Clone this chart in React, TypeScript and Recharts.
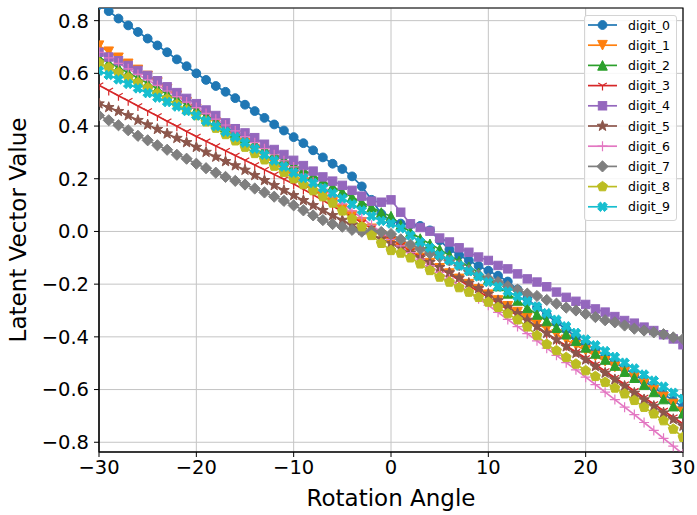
import React from "react";
import {
  LineChart,
  Line,
  XAxis,
  YAxis,
  CartesianGrid,
  Legend,
  ReferenceArea,
} from "recharts";

const FONT = "'DejaVu Sans', sans-serif";
const GRID = "#c4c4c4";

// rotation angles, one per sample
const ANGLES = [
  -30, -29, -28, -27, -26, -25, -24, -23, -22, -21,
  -20, -19, -18, -17, -16, -15, -14, -13, -12, -11,
  -10, -9, -8, -7, -6, -5, -4, -3, -2, -1,
  0, 1, 2, 3, 4, 5, 6, 7, 8, 9,
  10, 11, 12, 13, 14, 15, 16, 17, 18, 19,
  20, 21, 22, 23, 24, 25, 26, 27, 28, 29,
  30,
];

const DIGIT_0 = [
  0.86, 0.836, 0.808, 0.782, 0.757, 0.732, 0.706, 0.68, 0.653, 0.627,
  0.6, 0.575, 0.552, 0.53, 0.506, 0.481, 0.457, 0.431, 0.406, 0.383,
  0.358, 0.335, 0.308, 0.281, 0.257, 0.237, 0.209, 0.171, 0.12, 0.067,
  0.04, 0.03, 0.027, 0.021, 0.004, -0.034, -0.068, -0.09, -0.11, -0.131,
  -0.149, -0.168, -0.19, -0.22, -0.255, -0.288, -0.316, -0.344, -0.372, -0.4,
  -0.426, -0.448, -0.474, -0.497, -0.52, -0.543, -0.568, -0.592, -0.617, -0.642,
  -0.666,
];

const DIGIT_1 = [
  0.705, 0.682, 0.659, 0.636, 0.613, 0.59, 0.565, 0.54, 0.515, 0.49,
  0.465, 0.439, 0.413, 0.387, 0.361, 0.335, 0.31, 0.285, 0.26, 0.235,
  0.21, 0.185, 0.16, 0.135, 0.11, 0.085, 0.06, 0.035, 0.01, -0.015,
  -0.04, -0.06, -0.08, -0.1, -0.12, -0.14, -0.16, -0.18, -0.2, -0.22,
  -0.24, -0.262, -0.284, -0.306, -0.328, -0.35, -0.37, -0.391, -0.411, -0.432,
  -0.452, -0.473, -0.493, -0.514, -0.534, -0.555, -0.578, -0.602, -0.628, -0.655,
  -0.685,
];

const DIGIT_2 = [
  0.66, 0.641, 0.622, 0.602, 0.582, 0.562, 0.542, 0.522, 0.502, 0.482,
  0.462, 0.44, 0.419, 0.397, 0.376, 0.355, 0.335, 0.315, 0.295, 0.275,
  0.255, 0.234, 0.213, 0.192, 0.171, 0.15, 0.131, 0.111, 0.092, 0.072,
  0.058, 0.025, -0.002, -0.027, -0.047, -0.068, -0.09, -0.112, -0.134, -0.157,
  -0.18, -0.207, -0.235, -0.262, -0.29, -0.315, -0.34, -0.365, -0.39, -0.415,
  -0.44, -0.463, -0.486, -0.509, -0.532, -0.555, -0.582, -0.609, -0.636, -0.663,
  -0.69,
];

const DIGIT_3 = [
  0.555, 0.535, 0.515, 0.496, 0.476, 0.457, 0.438, 0.418, 0.399, 0.379,
  0.36, 0.342, 0.324, 0.306, 0.288, 0.27, 0.252, 0.234, 0.216, 0.198,
  0.18, 0.16, 0.139, 0.118, 0.097, 0.076, 0.055, 0.034, 0.013, -0.009,
  -0.03, -0.052, -0.074, -0.096, -0.118, -0.14, -0.162, -0.184, -0.206, -0.228,
  -0.25, -0.273, -0.296, -0.319, -0.342, -0.365, -0.388, -0.411, -0.434, -0.457,
  -0.48, -0.505, -0.53, -0.555, -0.58, -0.605, -0.63, -0.655, -0.68, -0.705,
  -0.73,
];

const DIGIT_4 = [
  0.68, 0.662, 0.648, 0.63, 0.611, 0.592, 0.572, 0.549, 0.527, 0.505,
  0.485, 0.461, 0.44, 0.412, 0.39, 0.374, 0.356, 0.331, 0.311, 0.292,
  0.27, 0.25, 0.229, 0.207, 0.191, 0.175, 0.156, 0.134, 0.115, 0.111,
  0.12, 0.073, 0.029, 0.015, 0.001, -0.025, -0.04, -0.062, -0.079, -0.097,
  -0.11, -0.129, -0.142, -0.161, -0.18, -0.192, -0.21, -0.23, -0.25, -0.265,
  -0.277, -0.294, -0.306, -0.323, -0.338, -0.348, -0.363, -0.376, -0.392, -0.408,
  -0.43,
];

const DIGIT_5 = [
  0.485, 0.471, 0.456, 0.44, 0.422, 0.405, 0.388, 0.371, 0.354, 0.338,
  0.32, 0.301, 0.283, 0.266, 0.25, 0.233, 0.213, 0.194, 0.175, 0.156,
  0.137, 0.118, 0.099, 0.08, 0.061, 0.043, 0.024, 0.005, -0.012, -0.028,
  -0.045, -0.063, -0.081, -0.099, -0.117, -0.136, -0.156, -0.176, -0.196, -0.216,
  -0.237, -0.262, -0.287, -0.311, -0.336, -0.361, -0.386, -0.411, -0.437, -0.462,
  -0.487, -0.512, -0.537, -0.562, -0.587, -0.613, -0.638, -0.663, -0.688, -0.713,
  -0.738,
];

const DIGIT_6 = [
  0.68, 0.659, 0.638, 0.617, 0.596, 0.575, 0.554, 0.533, 0.512, 0.491,
  0.47, 0.448, 0.426, 0.404, 0.382, 0.36, 0.337, 0.314, 0.291, 0.268,
  0.245, 0.217, 0.189, 0.161, 0.133, 0.105, 0.078, 0.051, 0.024, -0.003,
  -0.03, -0.055, -0.08, -0.105, -0.13, -0.155, -0.18, -0.205, -0.23, -0.255,
  -0.28, -0.307, -0.334, -0.361, -0.388, -0.415, -0.443, -0.47, -0.498, -0.525,
  -0.553, -0.581, -0.61, -0.638, -0.667, -0.695, -0.725, -0.755, -0.785, -0.815,
  -0.845,
];

const DIGIT_7 = [
  0.44, 0.422, 0.403, 0.384, 0.363, 0.346, 0.327, 0.31, 0.291, 0.276,
  0.257, 0.24, 0.223, 0.207, 0.192, 0.178, 0.163, 0.148, 0.132, 0.116,
  0.099, 0.08, 0.061, 0.043, 0.028, 0.018, 0.006, -0.001, 0.003, -0.002,
  -0.01, -0.03, -0.05, -0.066, -0.083, -0.097, -0.11, -0.128, -0.147, -0.165,
  -0.179, -0.192, -0.208, -0.221, -0.236, -0.245, -0.26, -0.274, -0.289, -0.3,
  -0.313, -0.325, -0.337, -0.345, -0.357, -0.369, -0.376, -0.383, -0.39, -0.402,
  -0.408,
];

const DIGIT_8 = [
  0.64, 0.622, 0.603, 0.584, 0.565, 0.545, 0.524, 0.503, 0.482, 0.461,
  0.44, 0.416, 0.392, 0.368, 0.344, 0.32, 0.296, 0.272, 0.248, 0.224,
  0.2, 0.178, 0.155, 0.132, 0.108, 0.078, 0.048, 0.018, -0.015, -0.045,
  -0.072, -0.082, -0.1, -0.123, -0.148, -0.173, -0.192, -0.213, -0.23, -0.25,
  -0.268, -0.288, -0.312, -0.335, -0.362, -0.395, -0.428, -0.452, -0.478, -0.503,
  -0.528, -0.55, -0.572, -0.594, -0.616, -0.641, -0.667, -0.692, -0.718, -0.75,
  -0.781,
];

const DIGIT_9 = [
  0.61, 0.594, 0.577, 0.56, 0.543, 0.525, 0.508, 0.491, 0.474, 0.457,
  0.44, 0.419, 0.399, 0.378, 0.358, 0.337, 0.314, 0.291, 0.269, 0.246,
  0.223, 0.203, 0.184, 0.164, 0.145, 0.125, 0.103, 0.08, 0.058, 0.04,
  0.03, 0.012, -0.015, -0.04, -0.062, -0.09, -0.11, -0.13, -0.151, -0.171,
  -0.192, -0.21, -0.228, -0.247, -0.265, -0.285, -0.31, -0.335, -0.36, -0.385,
  -0.41, -0.432, -0.454, -0.476, -0.498, -0.52, -0.543, -0.566, -0.589, -0.612,
  -0.635,
];

const X_TICKS = [-30, -20, -10, 0, 10, 20, 30];
const Y_TICKS = [-0.8, -0.6, -0.4, -0.2, 0, 0.2, 0.4, 0.6, 0.8];
const Y_MIN = -0.837;
const Y_MAX = 0.848;

type MarkerKind = "o" | "v" | "^" | "1" | "s" | "*" | "+" | "D" | "p" | "X";

const SERIES: { key: string; color: string; marker: MarkerKind; values: number[] }[] = [
  { key: "digit_0", color: "#1f77b4", marker: "o", values: DIGIT_0 },
  { key: "digit_1", color: "#ff7f0e", marker: "v", values: DIGIT_1 },
  { key: "digit_2", color: "#2ca02c", marker: "^", values: DIGIT_2 },
  { key: "digit_3", color: "#d62728", marker: "1", values: DIGIT_3 },
  { key: "digit_4", color: "#9467bd", marker: "s", values: DIGIT_4 },
  { key: "digit_5", color: "#8c564b", marker: "*", values: DIGIT_5 },
  { key: "digit_6", color: "#e377c2", marker: "+", values: DIGIT_6 },
  { key: "digit_7", color: "#7f7f7f", marker: "D", values: DIGIT_7 },
  { key: "digit_8", color: "#bcbd22", marker: "p", values: DIGIT_8 },
  { key: "digit_9", color: "#17becf", marker: "X", values: DIGIT_9 },
];

const data = ANGLES.map((angle, i) => {
  const row: Record<string, number> = { angle };
  SERIES.forEach((s) => {
    row[s.key] = s.values[i];
  });
  return row;
});

function polyPoints(x: number, y: number, pts: number[][]) {
  return pts.map(([dx, dy]) => `${x + dx},${y + dy}`).join(" ");
}

function starPoints(r: number, inner: number, n: number) {
  const pts: number[][] = [];
  for (let i = 0; i < n * 2; i++) {
    const rad = i % 2 === 0 ? r : inner;
    const a = -Math.PI / 2 + (i * Math.PI) / n;
    pts.push([rad * Math.cos(a), rad * Math.sin(a)]);
  }
  return pts;
}

const STAR = starPoints(5.6, 2.3, 5);
const PENTA = starPoints(5.2, 5.2 * Math.cos(Math.PI / 5), 5).filter((_, i) => i % 2 === 0);
const XSHAPE = [
  [-2, -4.8], [0, -2.2], [2, -4.8], [4.8, -2], [2.2, 0], [4.8, 2],
  [2, 4.8], [0, 2.2], [-2, 4.8], [-4.8, 2], [-2.2, 0], [-4.8, -2],
];

function Marker({ kind, x, y, color }: { kind: MarkerKind; x: number; y: number; color: string }) {
  const common = { fill: color, stroke: color, strokeWidth: 1 };
  switch (kind) {
    case "o":
      return <circle cx={x} cy={y} r={4.4} {...common} />;
    case "v":
      return <polygon points={polyPoints(x, y, [[0, 4.8], [-4.8, -4.8], [4.8, -4.8]])} {...common} />;
    case "^":
      return <polygon points={polyPoints(x, y, [[0, -4.8], [-4.8, 4.8], [4.8, 4.8]])} {...common} />;
    case "1":
      return (
        <path
          d={`M${x},${y}L${x},${y + 5}M${x},${y}L${x - 4.3},${y - 2.5}M${x},${y}L${x + 4.3},${y - 2.5}`}
          stroke={color}
          strokeWidth={1.2}
          fill="none"
        />
      );
    case "s":
      return <rect x={x - 4.2} y={y - 4.2} width={8.4} height={8.4} {...common} />;
    case "*":
      return <polygon points={polyPoints(x, y, STAR)} {...common} />;
    case "+":
      return (
        <path
          d={`M${x - 5},${y}L${x + 5},${y}M${x},${y - 5}L${x},${y + 5}`}
          stroke={color}
          strokeWidth={1.2}
          fill="none"
        />
      );
    case "D":
      return <polygon points={polyPoints(x, y, [[0, -5.6], [5.6, 0], [0, 5.6], [-5.6, 0]])} {...common} />;
    case "p":
      return <polygon points={polyPoints(x, y, PENTA)} {...common} />;
    case "X":
      return <polygon points={polyPoints(x, y, XSHAPE)} {...common} />;
  }
  return null;
}

function makeDot(kind: MarkerKind, color: string, key: string) {
  return (props: any) => {
    const { cx, cy, index } = props;
    if (cx == null || cy == null) return <g key={`${key}-${index}`} />;
    return (
      <g key={`${key}-${index}`}>
        <Marker kind={kind} x={cx} y={cy} color={color} />
      </g>
    );
  };
}

function fmtX(v: number) {
  return v < 0 ? `\u2212${Math.abs(v)}` : String(v);
}

function fmtY(v: number) {
  const s = Math.abs(v).toFixed(1);
  return v < -1e-9 ? `\u2212${s}` : s;
}

function YTitle(props: any) {
  const vb = props.viewBox || { x: 0, y: 8, width: 99, height: 444 };
  const cy = vb.y + vb.height / 2;
  return (
    <text
      x={26}
      y={cy}
      transform={`rotate(-90 26 ${cy})`}
      textAnchor="middle"
      fontSize={23}
      fontFamily={FONT}
      fill="#000"
    >
      Latent Vector Value
    </text>
  );
}

function XTitle(props: any) {
  const vb = props.viewBox || { x: 99, y: 452, width: 584, height: 63 };
  return (
    <text
      x={vb.x + vb.width / 2}
      y={506}
      textAnchor="middle"
      fontSize={23}
      fontFamily={FONT}
      fill="#000"
    >
      Rotation Angle
    </text>
  );
}

function LegendBox() {
  const rowGap = 20.2;
  return (
    <div
      style={{
        width: 93,
        height: 206,
        boxSizing: "border-box",
        border: "1px solid #d4d4d4",
        borderRadius: 3,
        background: "rgba(255,255,255,0.85)",
      }}
    >
      <svg width={91} height={204} style={{ display: "block" }}>
        {SERIES.map((s, i) => {
          const y = 9 + i * rowGap;
          return (
            <g key={s.key}>
              <line x1={3} x2={32} y1={y} y2={y} stroke={s.color} strokeWidth={1.7} />
              <Marker kind={s.marker} x={17.5} y={y} color={s.color} />
              <text x={43} y={y} dy="0.36em" fontSize={12.5} fontFamily={FONT} fill="#000">
                {s.key}
              </text>
            </g>
          );
        })}
      </svg>
    </div>
  );
}

export default function App() {
  return (
    <div
      style={{
        position: "absolute",
        left: 0,
        top: 0,
        width: 697,
        height: 515,
        background: "#fff",
        fontFamily: FONT,
      }}
    >
      <LineChart
        width={697}
        height={515}
        data={data}
        margin={{ top: 8, right: 14, bottom: 0, left: 0 }}
      >
        <CartesianGrid stroke={GRID} strokeWidth={1} />
        <XAxis
          dataKey="angle"
          type="number"
          domain={[-30, 30]}
          ticks={X_TICKS}
          interval={0}
          allowDataOverflow
          height={63}
          tickSize={5}
          tickMargin={3}
          stroke="#000"
          tick={{ fill: "#000", fontSize: 19.5, fontFamily: FONT }}
          tickFormatter={fmtX}
          label={<XTitle />}
        />
        <YAxis
          type="number"
          domain={[Y_MIN, Y_MAX]}
          ticks={Y_TICKS}
          interval={0}
          allowDataOverflow
          width={99}
          tickSize={5}
          tickMargin={5}
          stroke="#000"
          tick={{ fill: "#000", fontSize: 19.5, fontFamily: FONT }}
          tickFormatter={fmtY}
          label={<YTitle />}
        />
        {SERIES.map((s) => (
          <Line
            key={s.key}
            dataKey={s.key}
            stroke={s.color}
            strokeWidth={1.7}
            dot={makeDot(s.marker, s.color, s.key)}
            activeDot={false}
            isAnimationActive={false}
          />
        ))}
        <ReferenceArea
          x1={-30}
          x2={30}
          y1={Y_MIN}
          y2={Y_MAX}
          fill="none"
          stroke="#000"
          strokeWidth={1.2}
          fillOpacity={0}
          ifOverflow="visible"
        />
        <Legend
          layout="vertical"
          align="center"
          verticalAlign="middle"
          wrapperStyle={{ left: 584, top: 15, width: 93, height: 206 }}
          content={() => <LegendBox />}
        />
      </LineChart>
    </div>
  );
}
